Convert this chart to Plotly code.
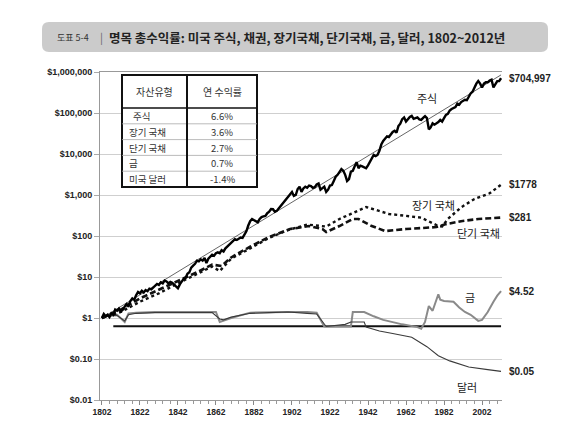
import math
import plotly.graph_objects as go

# ---------------- data ----------------
stock_years = list(range(1802, 2013))
stock_values = [
    1.0, 1.25, 1.1, 1.2, 1.05, 1.3, 1.2, 1.6, 1.5, 1.7,            # 1802-1811
    1.45, 1.6, 1.9, 2.2, 2.0, 2.6, 3.0, 2.8, 3.6, 4.3,             # 1812-1821
    4.0, 4.6, 4.2, 4.8, 4.5, 5.2, 5.0, 5.6, 6.0, 6.8,              # 1822-1831
    6.4, 7.4, 7.0, 8.2, 7.8, 7.0, 7.6, 7.2, 6.5, 5.8,              # 1832-1841
    5.3, 6.6, 7.5, 9.0, 9.5, 12, 13, 17, 19, 21,                   # 1842-1851
    25, 24, 27, 25, 29, 22, 28, 31, 35, 33,                        # 1852-1861
    38, 40, 38, 45, 42, 50, 55, 60, 68, 75,                        # 1862-1871
    84, 80, 88, 92, 90, 105, 130, 180, 230, 260,                   # 1872-1881
    240, 230, 215, 260, 290, 300, 310, 360, 390, 455,              # 1882-1891
    450, 390, 410, 470, 540, 600, 700, 820, 950, 1100,             # 1892-1901
    1190, 950, 1000, 1400, 1600, 1190, 1450, 1600, 1500, 1700,     # 1902-1911
    1650, 1500, 1550, 1800, 1900, 1350, 1450, 1600, 1190, 1350,    # 1912-1921
    1700, 1750, 2200, 2800, 3100, 3700, 4300, 3900, 3100, 2200,    # 1922-1931
    2450, 3700, 3900, 5000, 6300, 4500, 5200, 5000, 4700, 4500,    # 1932-1941
    5300, 6500, 7600, 9500, 8900, 9500, 12000, 17000, 20800, 24000,  # 1942-1951
    27000, 26000, 31000, 34500, 37000, 33000, 48000, 55000, 71000, 78000,  # 1952-1961
    62000, 72000, 80000, 85000, 72000, 75000, 78000, 70000, 68000, 76000,  # 1962-1971
    84000, 75000, 40000, 45000, 56000, 52000, 55000, 60000, 68000, 62000,  # 1972-1981
    75000, 90000, 95000, 115000, 125000, 130000, 140000, 170000, 160000, 185000,  # 1982-1991
    195000, 210000, 205000, 260000, 300000, 330000, 420000, 520000, 600000, 520000,  # 1992-2001
    420000, 520000, 560000, 560000, 620000, 650000, 420000, 500000, 600000, 600000,  # 2002-2011
    704997,                                                         # 2012
]

trend_years = [1802, 2012]
trend_values = [1.0, 850000]

bond_years = [1802, 1812, 1822, 1832, 1842, 1852, 1860, 1864, 1870, 1880, 1890, 1900, 1910, 1920, 1927,
              1933, 1941, 1947, 1953, 1962, 1970, 1979, 1981, 1984, 1991, 1998, 2006, 2012]
bond_values = [1.0, 1.4, 2.5, 4, 7, 12, 18, 14, 28, 50, 90, 140, 190, 170, 260,
               345, 510, 420, 345, 310, 280, 175, 170, 260, 500, 800, 1100, 1778]

bill_years = [1802, 1812, 1822, 1832, 1842, 1852, 1860, 1865, 1870, 1880, 1890, 1901, 1911, 1918, 1920,
              1927, 1934, 1937, 1944, 1951, 1962, 1978, 1983, 1991, 2000, 2012]
bill_values = [1.0, 1.6, 3, 5, 8, 13, 20, 18.6, 30, 55, 95, 148, 175, 148, 125,
               175, 260, 260, 175, 132, 148, 165, 195, 230, 260, 281]

gold_years = [1802, 1805, 1810, 1814, 1816, 1820, 1830, 1840, 1850, 1860, 1862, 1864, 1870, 1880, 1890,
              1900, 1910, 1915, 1919, 1925, 1930, 1933, 1934, 1940, 1945, 1950, 1960, 1968, 1970, 1972,
              1974, 1976, 1979, 1980, 1982, 1987, 1990, 1993, 1996, 2000, 2002, 2005, 2008, 2010, 2012]
gold_values = [1.0, 1.15, 1.2, 0.8, 1.3, 1.35, 1.4, 1.4, 1.4, 1.4, 1.4, 0.8, 1.0, 1.35, 1.4,
               1.4, 1.4, 1.35, 0.62, 0.62, 0.62, 0.62, 1.4, 1.4, 1.1, 0.9, 0.7, 0.6, 0.55, 0.8,
               1.96, 1.5, 3.8, 2.8, 2.6, 2.5, 1.8, 1.4, 1.2, 0.85, 0.9, 1.4, 2.5, 3.5, 4.52]

dollar_years = [1802, 1805, 1810, 1814, 1816, 1820, 1830, 1840, 1850, 1860, 1864, 1866, 1870, 1880, 1890,
                1900, 1910, 1915, 1920, 1925, 1930, 1933, 1940, 1941, 1948, 1955, 1965, 1973, 1979, 1985,
                1995, 2005, 2012]
dollar_values = [1.0, 1.1, 1.15, 0.85, 1.2, 1.3, 1.35, 1.35, 1.4, 1.35, 0.95, 0.9, 1.05, 1.3, 1.35,
                 1.4, 1.3, 1.25, 0.62, 0.65, 0.7, 0.8, 0.8, 0.6, 0.48, 0.42, 0.34, 0.2, 0.12, 0.09,
                 0.064, 0.055, 0.05]

ref_years = [1808, 2012]
ref_values = [0.63, 0.63]

end_labels = ["$704,997", "$1778", "$281", "$4.52", "$0.05"]
end_values = [704997, 1778, 281, 4.52, 0.05]

ytick_values = [0.01, 0.1, 1, 10, 100, 1000, 10000, 100000, 1000000]
ytick_labels = ["$0.01", "$0.10", "$1", "$10", "$100", "$1,000", "$10,000", "$100,000", "$1,000,000"]
xtick_values = list(range(1802, 2003, 20))

table_header = ["자산유형", "연 수익률"]
table_assets = ["주식", "장기 국채", "단기 국채", "금", "미국 달러"]
table_returns = ["6.6%", "3.6%", "2.7%", "0.7%", "-1.4%"]

series_names = ["주식", "장기 국채", "단기 국채", "금", "달러"]

title_prefix = "도표 5-4"
title_main = "명목 총수익률: 미국 주식, 채권, 장기국채, 단기국채, 금, 달러, 1802~2012년"

# ---------------- layout helpers ----------------
W, H = 570, 446
L, R, T, B = 100, 502, 72, 400


def px(x):
    return (x - L) / (R - L)


def py(y):
    return (B - y) / (B - T)


KR = "Noto Sans CJK KR"
NUM = "Liberation Sans"

fig = go.Figure()

fig.add_trace(go.Scatter(x=trend_years, y=trend_values, mode="lines",
                         line=dict(color="#555555", width=0.9), hoverinfo="skip"))
fig.add_trace(go.Scatter(x=ref_years, y=ref_values, mode="lines",
                         line=dict(color="#111111", width=1.8), hoverinfo="skip"))
fig.add_trace(go.Scatter(x=gold_years, y=gold_values, mode="lines",
                         line=dict(color="#8a8a8a", width=2.0)))
fig.add_trace(go.Scatter(x=dollar_years, y=dollar_values, mode="lines",
                         line=dict(color="#3a3a3a", width=1.1)))
fig.add_trace(go.Scatter(x=bill_years, y=bill_values, mode="lines",
                         line=dict(color="#111111", width=2.6, dash="6px,3px")))
fig.add_trace(go.Scatter(x=bond_years, y=bond_values, mode="lines",
                         line=dict(color="#111111", width=2.4, dash="dot")))
fig.add_trace(go.Scatter(x=stock_years, y=stock_values, mode="lines",
                         line=dict(color="#000000", width=2.4)))

fig.update_layout(
    width=W, height=H,
    margin=dict(l=L, r=W - R, t=T, b=H - B),
    paper_bgcolor="white", plot_bgcolor="white",
    showlegend=False,
    xaxis=dict(range=[1801, 2012.5], tickvals=xtick_values, ticktext=["<b>%d</b>" % v for v in xtick_values],
               ticks="outside", ticklen=4,
               tickcolor="#888888", showgrid=False, zeroline=False,
               showline=True, linecolor="#999999", linewidth=1, mirror=True,
               tickfont=dict(family=NUM, size=8.5, color="#222222"),
               minor=dict(dtick=4, tick0=1802, ticks="outside", ticklen=3, tickcolor="#999999", showgrid=False)),
    yaxis=dict(type="log", range=[-2, 6], tickvals=ytick_values, ticktext=["<b>%s</b>" % t for t in ytick_labels],
               ticks="outside", ticklen=5, tickcolor="#aaaaaa",
               showgrid=True, gridcolor="#cfcfcf", gridwidth=1, zeroline=False,
               showline=True, linecolor="#999999", linewidth=1,
               tickfont=dict(family=NUM, size=9, color="#222222")),
)

# title bar (rounded)
x0, x1, y0, y1, r = px(42), px(548), py(52), py(22), 7
rx, ry = r / (R - L), r / (B - T)
path = (f"M {x0 + rx},{y1} L {x1 - rx},{y1} Q {x1},{y1} {x1},{y1 - ry} L {x1},{y0 + ry} "
        f"Q {x1},{y0} {x1 - rx},{y0} L {x0 + rx},{y0} Q {x0},{y0} {x0},{y0 + ry} L {x0},{y1 - ry} "
        f"Q {x0},{y1} {x0 + rx},{y1} Z")
fig.add_shape(type="path", xref="paper", yref="paper", path=path,
              fillcolor="#cbcbcb", line=dict(width=0), layer="below")
fig.add_annotation(xref="paper", yref="paper", x=px(55), y=py(37), xanchor="left", yanchor="middle",
                   text=title_prefix, showarrow=False, font=dict(family=KR, size=9, color="#333333"))
fig.add_annotation(xref="paper", yref="paper", x=px(98), y=py(37), xanchor="left", yanchor="middle",
                   text="|", showarrow=False, font=dict(family=KR, size=11, color="#666666"))
fig.add_annotation(xref="paper", yref="paper", x=px(107), y=py(37), xanchor="left", yanchor="middle",
                   text="<b>" + title_main + "</b>", showarrow=False,
                   font=dict(family=KR, size=12.5, color="#222222"))

# table
tl, tr, tt, tb, tsep, thead = 122, 257, 75, 187, 187, 108
fig.add_shape(type="rect", xref="paper", yref="paper", x0=px(tl), x1=px(tr), y0=py(tb), y1=py(tt),
              fillcolor="white", line=dict(color="#111111", width=2), layer="above")
row_h = (tb - thead) / len(table_assets)
for i in range(len(table_assets)):
    yb = thead + i * row_h
    fig.add_shape(type="line", xref="paper", yref="paper", x0=px(tl), x1=px(tr), y0=py(yb), y1=py(yb),
                  line=dict(color="#111111" if i == 0 else "#aaaaaa", width=1.5 if i == 0 else 0.8),
                  layer="above")
    yc = yb + row_h / 2
    fig.add_annotation(xref="paper", yref="paper", x=px(tl + (9 if i == 0 else 5)), y=py(yc), xanchor="left",
                       yanchor="middle", text=table_assets[i], showarrow=False,
                       font=dict(family=KR, size=9.5, color="#333333"))
    fig.add_annotation(xref="paper", yref="paper", x=px((tsep + tr) / 2), y=py(yc), xanchor="center",
                       yanchor="middle", text=table_returns[i], showarrow=False,
                       font=dict(family=KR, size=9.5, color="#333333"))
fig.add_shape(type="line", xref="paper", yref="paper", x0=px(tsep), x1=px(tsep), y0=py(tb), y1=py(tt),
              line=dict(color="#111111", width=2), layer="above")
fig.add_annotation(xref="paper", yref="paper", x=px((tl + tsep) / 2), y=py((tt + thead) / 2),
                   xanchor="center", yanchor="middle",
                   text=table_header[0], showarrow=False, font=dict(family=KR, size=10, color="#333333"))
fig.add_annotation(xref="paper", yref="paper", x=px((tsep + tr) / 2), y=py((tt + thead) / 2),
                   xanchor="center", yanchor="middle",
                   text=table_header[1], showarrow=False, font=dict(family=KR, size=10, color="#333333"))

# end-value labels (right of plot)
for lab, v in zip(end_labels, end_values):
    fig.add_annotation(xref="paper", yref="y", x=px(507), y=math.log10(v), xanchor="left", yanchor="middle",
                       text="<b>" + lab + "</b>", showarrow=False,
                       font=dict(family=NUM, size=10, color="#222222"))

# series labels
label_pos = [(427, 98), (433, 205), (478, 233), (470, 297), (467, 387)]
for txt, (xx, yy) in zip(series_names, label_pos):
    fig.add_annotation(xref="paper", yref="paper", x=px(xx), y=py(yy), xanchor="center", yanchor="middle",
                       text=txt, showarrow=False, font=dict(family=KR, size=11, color="#222222"))

fig.write_html("out.html")
